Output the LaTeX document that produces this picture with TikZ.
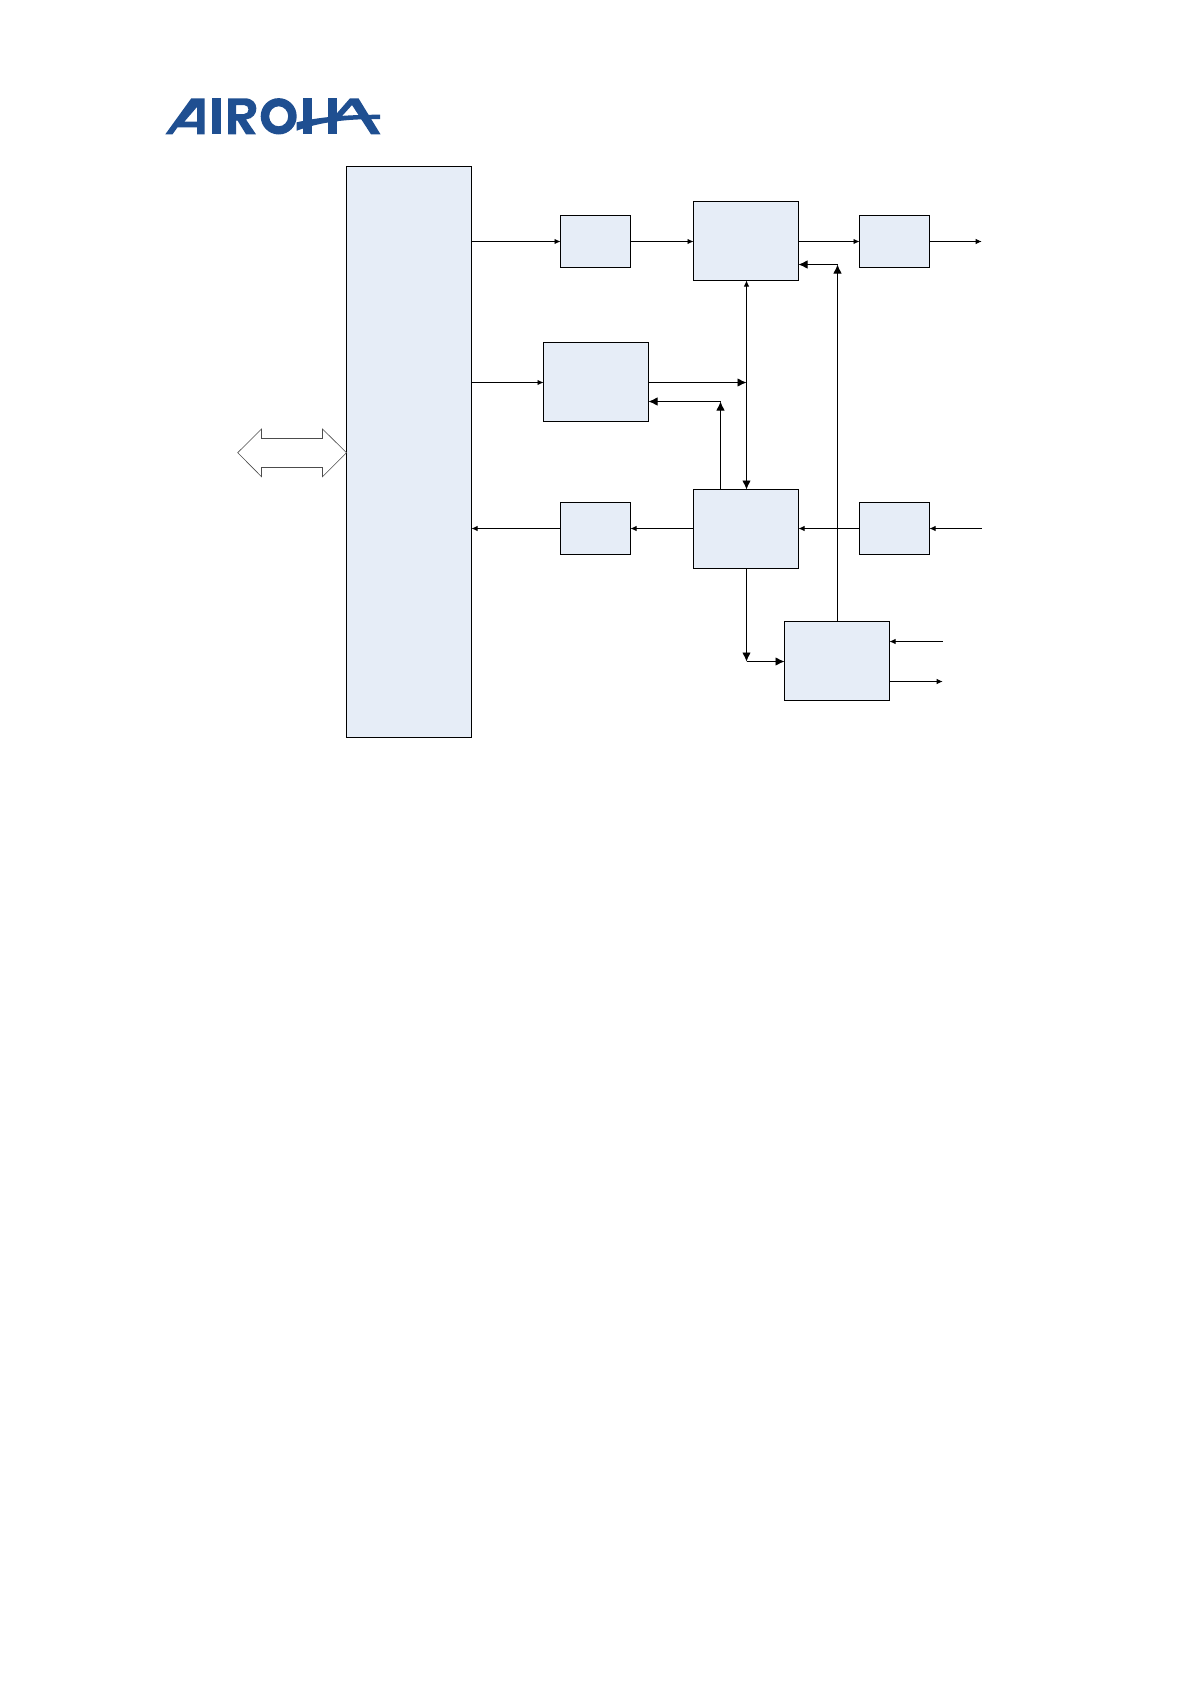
\documentclass[tikz,border=0pt]{standalone}
\usetikzlibrary{arrows.meta}
\definecolor{boxfill}{HTML}{E6EDF7}
\definecolor{logoblue}{HTML}{1F4F91}
\tikzset{
  blockbox/.style={draw=black,fill=boxfill,line width=0.9pt,anchor=north west,inner sep=0pt,outer sep=0pt},
  conn/.style={draw=black,line width=0.9pt},
  smalltip/.style={-{Latex[length=6pt,width=5.5pt]}},
  bigtip/.style={-{Latex[length=9pt,width=8.5pt]}},
  logofill/.style={fill=logoblue,draw=none}
}
\newcommand{\blk}[5]{\node[blockbox,minimum width=#4pt-#2pt,minimum height=#5pt-#3pt] (#1) at (#2,#3) {};}
\begin{document}
\begin{tikzpicture}[x=1pt,y=-1pt]
\useasboundingbox (0,0) rectangle (1190,1684);
\fill[white] (0,0) rectangle (1190,1684);
% logo
\fill[logofill,even odd rule] (165.3,134.3) -- (191.3,98.3) -- (204.7,98.3) -- (204.7,134.3) -- (197,134.3) -- (197,127.3) -- (177.5,127.3) -- (172.5,134.3) -- cycle (197,107) -- (197,121.5) -- (184.5,121.5) -- cycle;
\fill[logofill] (211.7,98.3) rectangle (220.7,134.3);
\fill[logofill,even odd rule] (228,98.3) -- (245,98.3) .. controls (260,98.3) and (260,118) .. (246,119.5) -- (256,134.3) -- (246,134.3) -- (237.5,120.5) -- (236,120.5) -- (236,134.3) -- (228,134.3) -- cycle (236,105) -- (236,114) -- (244,114) .. controls (250,114) and (250,105) .. (244,105) -- cycle;
\fill[logofill,even odd rule] (278.7,116.3) circle[x radius=18,y radius=18.2] (278.7,116.3) circle[x radius=9.5,y radius=10];
\fill[logofill] (303.3,98.3) rectangle (311.7,134.3);
\fill[logofill] (328.3,98.3) rectangle (336.7,134.3);
\fill[logofill] (296.7,122.3) .. controls (320,117) and (345,114.7) .. (380,114.7) -- (380,119) .. controls (345,119) and (320,122) .. (296.7,130.7) -- cycle;
\fill[logofill] (336.7,113.5) -- (350,98.3) -- (358.5,98.3) -- (380.5,134.3) -- (371,134.3) -- (352,105) -- (336.7,122) -- cycle;
% blocks
\blk{cpu}{346.5}{166.5}{471.5}{737.5}
\blk{tl}{560.5}{215.5}{630.5}{267.5}
\blk{tm}{693.5}{201.5}{798.5}{280.5}
\blk{tr}{859.5}{215.5}{929.5}{267.5}
\blk{mid}{543.5}{342.5}{648.5}{421.5}
\blk{bl}{560.5}{502.5}{630.5}{554.5}
\blk{bm}{693.5}{489.5}{798.5}{568.5}
\blk{br}{859.5}{502.5}{929.5}{554.5}
\blk{low}{784.5}{621.5}{889.5}{700.5}
% free ends
\coordinate (outtr) at (981.7,241.5);
\coordinate (inbr) at (981.7,528.5);
\coordinate (inlow) at (942.7,641.5);
\coordinate (outlow) at (942.7,681.5);
\coordinate (junc) at (746.5,382.5);
\coordinate (corn) at (746.5,661.5);
\coordinate (c1) at (720.5,401.5);
\coordinate (c2) at (837.5,264.5);
% wide double arrow
\draw[draw=black!70,line width=0.6pt,fill=white] (237.7,452.7) -- (261.5,429) -- (261.5,438.5) -- (322.5,438.5) -- (322.5,429) -- (346.5,452.7) -- (322.5,476.7) -- (322.5,467.5) -- (261.5,467.5) -- (261.5,476.7) -- cycle;
% connectors
\draw[conn,smalltip] (cpu.east |- tl.west) -- (tl.west);
\draw[conn,smalltip] (tl.east) -- (tm.west |- tl.east);
\draw[conn,smalltip] (tm.east |- tr.west) -- (tr.west);
\draw[conn,smalltip] (tr.east) -- (outtr);
\draw[conn,smalltip] (cpu.east |- junc) -- (mid.west |- junc);
\draw[conn,bigtip] (mid.east |- junc) -- (junc);
\draw[conn,smalltip] (junc) -- (junc |- tm.south);
\draw[conn,bigtip] (junc) -- (junc |- bm.north);
\draw[conn,bigtip] (c1 |- bm.north) -- (c1);
\draw[conn,bigtip] (c1) -- (mid.east |- c1);
\draw[conn,bigtip] (c2 |- low.north) -- (c2);
\draw[conn,bigtip] (c2) -- (tm.east |- c2);
\draw[conn,smalltip] (inbr) -- (br.east);
\draw[conn,smalltip] (br.west) -- (bm.east |- br.west);
\draw[conn,smalltip] (bm.west |- bl.east) -- (bl.east);
\draw[conn,smalltip] (bl.west) -- (cpu.east |- bl.west);
\draw[conn,bigtip] (corn |- bm.south) -- (corn);
\draw[conn,bigtip] (corn) -- (low.west |- corn);
\draw[conn,smalltip] (inlow) -- (low.east |- inlow);
\draw[conn,smalltip] (low.east |- outlow) -- (outlow);
\end{tikzpicture}
\end{document}
